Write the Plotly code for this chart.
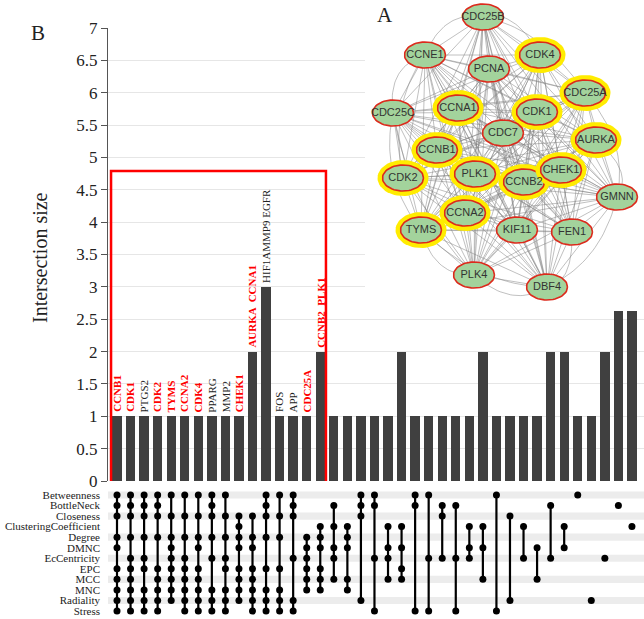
import itertools
import numpy as np
import plotly.graph_objects as go

# ---------------- data ----------------
set_names = ["Betweenness", "BottleNeck", "Closeness", "ClusteringCoefficient",
             "Degree", "DMNC", "EcCentricity", "EPC", "MCC", "MNC",
             "Radiality", "Stress"]

# last two bars run up behind the network picture (panel A)
bar_sizes = [1, 1, 1, 1, 1, 1, 1, 1, 1, 1, 2, 3, 1, 1, 1, 2,
             1, 1, 1, 1, 1, 2, 1, 1, 1, 1, 1, 2, 1, 1, 1, 1, 2, 2, 1, 1, 2, 3, 6]

bar_genes = ["CCNB1", "CDK1", "PTGS2", "CDK2", "TYMS", "CCNA2", "CDK4", "PPARG",
             "MMP2", "CHEK1", "AURKA  CCNA1", "HIF1AMMP9 EGFR", "FOS", "APP",
             "CDC25A", "CCNB2  PLK1"]
gene_is_hub = [True, True, False, True, True, True, True, False,
               False, True, True, False, False, False, True, True]

col_sets = [
    ["Betweenness", "BottleNeck", "Closeness", "Degree", "DMNC", "EPC", "MCC", "MNC", "Radiality", "Stress"],
    ["Betweenness", "BottleNeck", "Closeness", "Degree", "EcCentricity", "EPC", "MCC", "MNC", "Radiality", "Stress"],
    ["Betweenness", "BottleNeck", "Closeness", "Degree", "EcCentricity", "EPC", "MNC", "Radiality", "Stress"],
    ["Betweenness", "BottleNeck", "Closeness", "Degree", "EPC", "MCC", "MNC", "Radiality", "Stress"],
    ["Betweenness", "Closeness", "Degree", "DMNC", "EcCentricity", "EPC", "MCC", "MNC", "Radiality"],
    ["Betweenness", "Closeness", "Degree", "EcCentricity", "EPC", "MCC", "MNC", "Radiality", "Stress"],
    ["Betweenness", "Closeness", "Degree", "DMNC", "EPC", "MCC", "MNC", "Radiality", "Stress"],
    ["Betweenness", "BottleNeck", "Closeness", "Degree", "EcCentricity", "MNC", "Radiality", "Stress"],
    ["Betweenness", "Closeness", "Degree", "EcCentricity", "EPC", "MNC", "Radiality", "Stress"],
    ["Closeness", "ClusteringCoefficient", "Degree", "DMNC", "EPC", "MCC", "MNC", "Radiality"],
    ["Closeness", "Degree", "DMNC", "EPC", "MCC", "MNC", "Radiality", "Stress"],
    ["Betweenness", "BottleNeck", "Closeness", "Degree", "EPC", "MNC", "Radiality", "Stress"],
    ["Betweenness", "Closeness", "Degree", "EPC", "MNC", "Radiality", "Stress"],
    ["Betweenness", "BottleNeck", "Closeness", "EcCentricity", "Radiality", "Stress"],
    ["Degree", "DMNC", "EcCentricity", "EPC", "MCC", "MNC"],
    ["ClusteringCoefficient", "Degree", "DMNC", "EPC", "MCC", "MNC"],
    ["BottleNeck", "ClusteringCoefficient", "DMNC", "EcCentricity", "MCC"],
    ["ClusteringCoefficient", "Degree", "DMNC", "MCC", "MNC"],
    ["Betweenness", "BottleNeck", "Closeness", "Radiality"],
    ["Betweenness", "BottleNeck", "EcCentricity", "Stress"],
    ["ClusteringCoefficient", "DMNC", "EcCentricity", "MCC"],
    ["ClusteringCoefficient", "DMNC", "EPC", "MCC"],
    ["Betweenness", "BottleNeck", "Stress"],
    ["Betweenness", "EcCentricity", "Stress"],
    ["BottleNeck", "Closeness", "EcCentricity"],
    ["BottleNeck", "EcCentricity", "Stress"],
    ["ClusteringCoefficient", "DMNC", "EcCentricity"],
    ["ClusteringCoefficient", "DMNC", "MCC"],
    ["Betweenness", "Stress"],
    ["Closeness", "Radiality"],
    ["ClusteringCoefficient", "EcCentricity"],
    ["DMNC", "MCC"],
    ["BottleNeck", "EcCentricity"],
    ["ClusteringCoefficient", "DMNC"],
    ["Betweenness"],
    ["Radiality"],
    ["EcCentricity"],
    ["BottleNeck"],
    ["ClusteringCoefficient"],
]

node_names = ["CDC25B", "CCNE1", "CDK4", "PCNA", "CDC25A", "CDC25C", "CCNA1", "CDK1",
              "CDC7", "AURKA", "CCNB1", "CDK2", "PLK1", "CCNB2", "CHEK1", "GMNN",
              "CCNA2", "TYMS", "KIF11", "FEN1", "PLK4", "DBF4"]
node_x = [483, 425, 540, 489, 585, 393, 458, 537, 503, 596, 437, 403, 475, 524, 561, 617,
          465, 421, 517, 572, 474, 547]
node_y = [17, 55, 55, 69, 93, 113, 108, 112, 133, 140, 150, 178, 174, 182, 170, 197,
          213, 230, 230, 232, 275, 287]
node_hub = [False, False, True, False, True, False, True, True, False, True, True, True,
            True, True, True, False, True, True, False, False, False, False]

curved_pairs = [("CDC25C", "TYMS"), ("CDC25C", "PLK4"), ("CCNE1", "CDC25C"),
                ("CDC25B", "CDC25A"), ("CDC25A", "GMNN"), ("AURKA", "GMNN"),
                ("GMNN", "DBF4"), ("PLK4", "DBF4"), ("TYMS", "PLK4"),
                ("CCNE1", "CDK2"), ("FEN1", "DBF4"), ("CDC25B", "CCNE1"),
                ("CDC25B", "CDK4"), ("TYMS", "DBF4")]

# ---------------- figure ----------------
W, H = 644, 619
SERIF = "Liberation Serif, Times New Roman, serif"
n_cols = len(bar_sizes)
x_idx = list(range(n_cols))
PANEL_BOTTOM = 311

fig = go.Figure()

# bars
fig.add_trace(go.Bar(x=x_idx, y=bar_sizes, marker=dict(color="#404040", line=dict(width=0)),
                     width=0.69, xaxis="x", yaxis="y", hoverinfo="skip", cliponaxis=True))

# matrix lines and dots
lx, ly = [], []
dx, dy = [], []
for i, members in enumerate(col_sets):
    rows = [set_names.index(s) for s in members]
    for r in rows:
        dx.append(i)
        dy.append(r)
    if len(rows) > 1:
        lx += [i, i, None]
        ly += [min(rows), max(rows), None]
fig.add_trace(go.Scatter(x=lx, y=ly, mode="lines", line=dict(color="black", width=2.2),
                         xaxis="x2", yaxis="y2", hoverinfo="skip"))
fig.add_trace(go.Scatter(x=dx, y=dy, mode="markers", marker=dict(color="black", size=7),
                         xaxis="x2", yaxis="y2", hoverinfo="skip"))

# ---------- network panel (A) ----------
fig.add_trace(go.Scatter(x=[365, 644, 644, 365, 365], y=[0, 0, PANEL_BOTTOM, PANEL_BOTTOM, 0],
                         mode="lines", fill="toself", fillcolor="white", line=dict(width=0),
                         xaxis="x3", yaxis="y3", hoverinfo="skip"))
pos = {n: (x, y) for n, x, y in zip(node_names, node_x, node_y)}
ex, ey = [], []
for a, b in itertools.combinations(node_names, 2):
    ex += [pos[a][0], pos[b][0], None]
    ey += [pos[a][1], pos[b][1], None]
fig.add_trace(go.Scatter(x=ex, y=ey, mode="lines", line=dict(color="rgba(130,130,130,0.85)", width=0.6),
                         xaxis="x3", yaxis="y3", hoverinfo="skip"))
cx0 = float(np.mean(node_x))
cy0 = float(np.mean(node_y))
tt = np.linspace(0, 1, 30)
cxs, cys = [], []
for a, b in curved_pairs:
    (x1, y1), (x2, y2) = pos[a], pos[b]
    mx, my = (x1 + x2) / 2, (y1 + y2) / 2
    vx, vy = mx - cx0, my - cy0
    nrm = max(np.hypot(vx, vy), 1e-6)
    px, py = mx + vx / nrm * 28, my + vy / nrm * 28
    bx = (1 - tt) ** 2 * x1 + 2 * (1 - tt) * tt * px + tt ** 2 * x2
    by = (1 - tt) ** 2 * y1 + 2 * (1 - tt) * tt * py + tt ** 2 * y2
    cxs += list(bx) + [None]
    cys += list(by) + [None]
fig.add_trace(go.Scatter(x=cxs, y=cys, mode="lines", line=dict(color="rgba(130,130,130,0.85)", width=0.6),
                         xaxis="x3", yaxis="y3", hoverinfo="skip"))

th = np.linspace(0, 2 * np.pi, 60)
for n, x, y, hub in zip(node_names, node_x, node_y, node_hub):
    if hub:
        fig.add_trace(go.Scatter(x=x + 25.5 * np.cos(th), y=y + 18 * np.sin(th), mode="lines",
                                 fill="toself", fillcolor="#ffec00", line=dict(width=0),
                                 xaxis="x3", yaxis="y3", hoverinfo="skip"))
    fig.add_trace(go.Scatter(x=x + 20.5 * np.cos(th), y=y + 13 * np.sin(th), mode="lines",
                             fill="toself", fillcolor="#a3d39c", line=dict(color="#dc2a1c", width=1.6),
                             xaxis="x3", yaxis="y3", hoverinfo="skip"))
fig.add_trace(go.Scatter(x=node_x, y=node_y, mode="text", text=node_names,
                         textfont=dict(family="Liberation Sans, Arial, sans-serif", size=11, color="#333333"),
                         xaxis="x3", yaxis="y3", hoverinfo="skip"))

# ---------- axes ----------
xr = [-0.664, 38.89]
dom_x = [108 / W, 1.0]
fig.update_layout(
    width=W, height=H, margin=dict(l=0, r=0, t=0, b=0, autoexpand=False),
    paper_bgcolor="white", plot_bgcolor="rgba(0,0,0,0)", showlegend=False,
    hovermode=False, bargap=0,
    xaxis=dict(domain=dom_x, range=xr, visible=False, anchor="y", automargin=False),
    yaxis=dict(domain=[1 - 481 / H, 1 - 28 / H], range=[0, 7], anchor="x", automargin=False,
               tickvals=[i * 0.5 for i in range(15)],
               ticktext=[("%g" % (i * 0.5)) for i in range(15)],
               showgrid=True, gridcolor="#e6e6e6", gridwidth=1,
               showline=True, linecolor="#555555", linewidth=1,
               ticks="outside", ticklen=6, tickcolor="#555555",
               tickfont=dict(family=SERIF, size=17, color="#222222"),
               zeroline=False),
    xaxis2=dict(domain=dom_x, range=xr, visible=False, anchor="y2", automargin=False),
    yaxis2=dict(domain=[1 - 616.3 / H, 1 - 489.7 / H], range=[11.5, -0.5], anchor="x2",
                automargin=False,
                tickvals=list(range(12)), ticktext=set_names,
                showgrid=False, zeroline=False, showline=False, ticks="",
                ticklabelstandoff=7,
                tickfont=dict(family=SERIF, size=11, color="#222222")),
    xaxis3=dict(domain=[365 / W, 1.0], range=[365, 644], visible=False, anchor="y3", automargin=False),
    yaxis3=dict(domain=[1 - PANEL_BOTTOM / H, 1.0], range=[PANEL_BOTTOM, 0], visible=False,
                anchor="x3", automargin=False),
)

# stripes behind matrix rows
for r in range(0, 12, 2):
    fig.add_shape(type="rect", xref="paper", yref="y2", x0=108 / W, x1=1.0,
                  y0=r - 0.34, y1=r + 0.34, fillcolor="#ececec", line=dict(width=0), layer="below")

# red box
fig.add_shape(type="rect", xref="x", yref="y", x0=-0.44, x1=15.42, y0=-0.02, y1=4.79,
              line=dict(color="#ff0000", width=2.5), fillcolor="rgba(0,0,0,0)", layer="above")

# gene labels above bars
for i, (g, hub) in enumerate(zip(bar_genes, gene_is_hub)):
    txt = "<b>%s</b>" % g if hub else g
    fig.add_annotation(x=i, y=bar_sizes[i], xref="x", yref="y", text=txt, showarrow=False,
                       textangle=-90, xanchor="center", yanchor="bottom", yshift=2,
                       font=dict(family=SERIF, size=11, color="#ff0000" if hub else "#222222"))

# titles / panel letters
fig.add_annotation(x=40 / W, y=1 - 258 / H, xref="paper", yref="paper", text="Intersection size",
                   textangle=-90, showarrow=False, xanchor="center", yanchor="middle",
                   font=dict(family=SERIF, size=20, color="#222222"))
fig.add_annotation(x=38 / W, y=1 - 33 / H, xref="paper", yref="paper", text="B",
                   showarrow=False, xanchor="center", yanchor="middle",
                   font=dict(family=SERIF, size=21, color="#222222"))
fig.add_annotation(x=385 / W, y=1 - 15 / H, xref="paper", yref="paper", text="A",
                   showarrow=False, xanchor="center", yanchor="middle",
                   font=dict(family=SERIF, size=21, color="#222222"))

fig.write_html("out.html")
